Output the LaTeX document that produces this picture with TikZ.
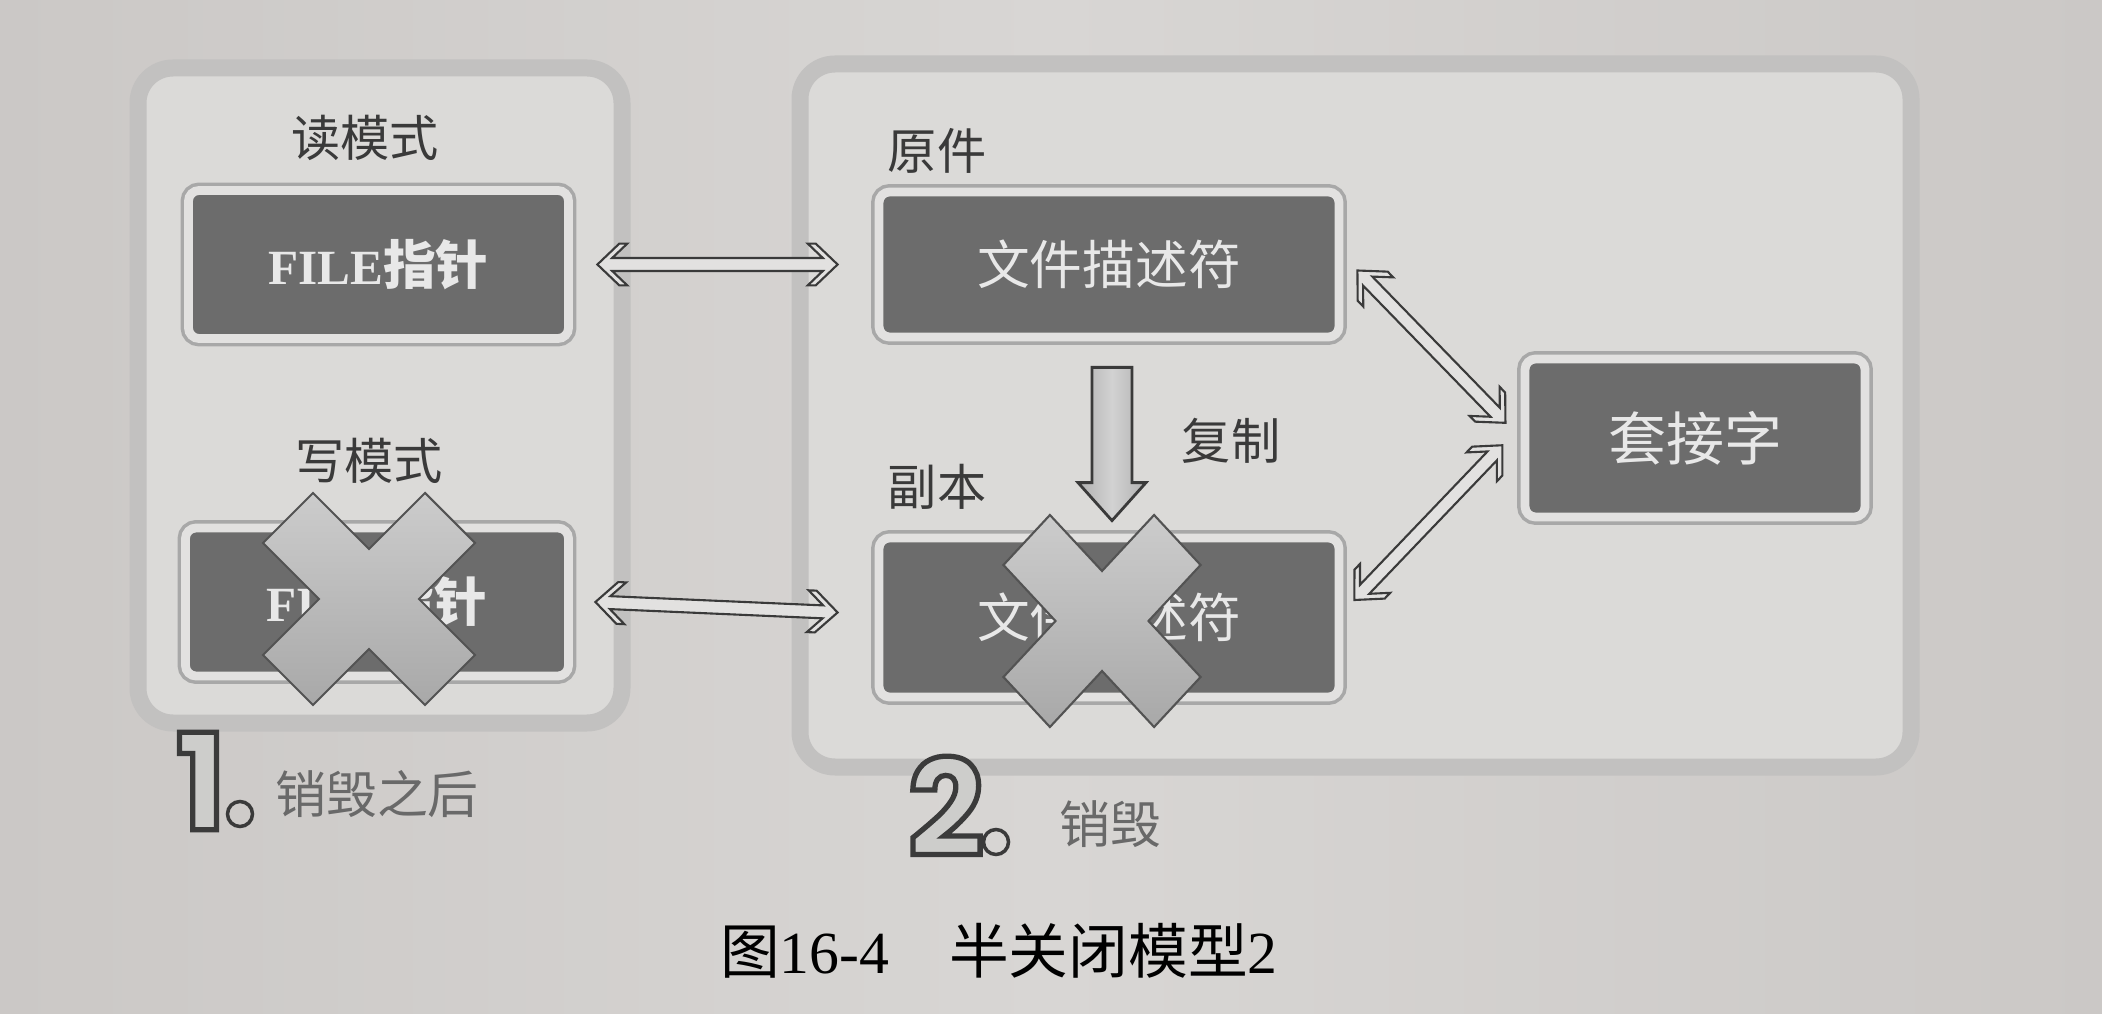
\documentclass[tikz,border=0pt]{standalone}
\usepackage{fontspec}
\usetikzlibrary{arrows.meta,calc}
\newfontfamily\cjk{Noto Sans CJK SC}
\newfontfamily\boxserif{Liberation Serif}
\newfontfamily\numfont{Poppins}
\newcommand{\outlinedigit}[1]{\special{pdf:literal direct 0.23 0.23 0.23 RG 1.5 w 2 Tr}#1\special{pdf:literal direct 0 Tr}}
% hollow double-headed link from #1 to #2
\newcommand{\hollowlink}[2]{%
  \path (#2); \pgfgetlastxy{\bx}{\by}
  \path (#1); \pgfgetlastxy{\ax}{\ay}
  \pgfmathsetmacro\linkang{atan2(\by-\ay,\bx-\ax)}
  \pgfmathsetmacro\linklen{veclen(\bx-\ax,\by-\ay)}
  \draw[hollowarrow, shift={(#1)}, rotate=\linkang]
    (0,0) -- (6.24pt,5.95pt) -- (8.51pt,5.95pt) -- (4.2pt,1.84pt)
    -- ({\linklen pt-4.2pt},1.84pt) -- ({\linklen pt-8.51pt},5.95pt)
    -- ({\linklen pt-6.24pt},5.95pt) -- ({\linklen pt},0pt)
    -- ({\linklen pt-6.24pt},-5.95pt) -- ({\linklen pt-8.51pt},-5.95pt)
    -- ({\linklen pt-4.2pt},-1.84pt) -- (4.2pt,-1.84pt)
    -- (8.51pt,-5.95pt) -- (6.24pt,-5.95pt) -- cycle;}

\definecolor{paper}{RGB}{216,214,212}
\definecolor{bgedge}{RGB}{203,200,198}
\definecolor{panelfill}{RGB}{219,218,216}
\definecolor{panelrim}{RGB}{194,193,192}
\definecolor{boxfill}{RGB}{108,108,108}
\definecolor{boxrim}{RGB}{226,225,224}
\definecolor{boxline}{RGB}{168,168,168}
\definecolor{boxtext}{RGB}{232,232,232}
\definecolor{inkgray}{RGB}{58,58,58}
\definecolor{softink}{RGB}{105,105,105}
\definecolor{numfill}{RGB}{205,205,203}

\tikzset{
  panel/.style={draw=panelrim, fill=panelfill, line width=0.17cm, rounded corners=0.35cm},
  darkbox/.style={fill=boxfill, draw=boxrim, line width=2.5pt, rounded corners=3pt,
    preaction={draw=boxline, line width=4.5pt}, text=boxtext,
    font=\cjk\fontsize{15}{15}\selectfont},
  tag/.style={text=inkgray, font=\cjk\fontsize{14}{14}\selectfont},
  hollowarrow/.style={fill=boxrim, draw=inkgray, line width=0.6pt, line join=miter},
  copyarrow/.style={left color=gray!62, right color=gray!62, middle color=gray!35,
    draw=inkgray, line width=0.8pt},
  crossmark/.style={top color=gray!40, bottom color=gray!68, draw=gray!65!black,
    line width=0.6pt},
  bignum/.style={text=numfill, font=\numfont\bfseries\fontsize{38}{38}\selectfont},
  numdot/.style={circle, draw=inkgray, line width=1pt, minimum size=0.25cm, inner sep=0pt},
  steptext/.style={text=softink, font=\cjk\fontsize{14.5}{14.5}\selectfont},
  figcaption/.style={text=black, font=\boxserif\fontsize{17}{17}\selectfont}
}

\begin{document}
\begin{tikzpicture}
  \useasboundingbox (0,0) rectangle (21.02,10.13);
  \shade[left color=bgedge, right color=bgedge, middle color=paper] (0,0) rectangle (21.02,10.13);

  % panels
  \node[panel, minimum width=4.84cm, minimum height=6.55cm] (modepanel) at (3.80,6.175) {};
  \node[panel, minimum width=11.11cm, minimum height=7.03cm] (fdpanel) at (13.555,5.975) {};

  % boxes
  \node[darkbox, minimum width=3.80cm, minimum height=1.48cm] (readptr) at (3.785,7.485)
    {{\boxserif\bfseries\fontsize{14}{14}\selectfont FILE}{\bfseries 指针}};
  \node[darkbox, minimum width=3.83cm, minimum height=1.48cm] (writeptr) at (3.77,4.11)
    {{\boxserif\bfseries\fontsize{14}{14}\selectfont FILE}{\bfseries 指针}};
  \node[darkbox, minimum width=4.60cm, minimum height=1.45cm] (origfd) at (11.09,7.485) {文件描述符};
  \node[darkbox, minimum width=4.60cm, minimum height=1.59cm] (copyfd) at (11.09,3.955) {文件描述符};
  \node[darkbox, minimum width=3.40cm, minimum height=1.58cm,
    font=\cjk\fontsize{16.5}{16.5}\selectfont] (sock) at (16.95,5.75) {套接字};

  \node[tag] (readtag) at (3.65,8.75) {读模式};
  \node[tag] (writetag) at (3.69,5.52) {写模式};
  \node[tag] (origtag) at (9.37,8.62) {原件};
  \node[tag] (copytag) at (9.37,5.26) {副本};
  \node[tag] (duptag) at (12.31,5.72) {复制};

  % link ends
  \coordinate (readend) at ([xshift=0.245cm]readptr.east);
  \coordinate (origin) at ([xshift=-0.37cm]origfd.west);
  \coordinate (writeend) at ([xshift=0.225cm]writeptr.east);
  \coordinate (copyin) at ([xshift=-0.37cm,yshift=0.05cm]copyfd.west);
  \coordinate (origout) at ([xshift=0.14cm,yshift=-0.06cm]origfd.east);
  \coordinate (sockhi) at ([xshift=-0.15cm,yshift=0.15cm]sock.west);
  \coordinate (copyout) at ([xshift=0.11cm,yshift=0.175cm]copyfd.east);
  \coordinate (socklo) at ([xshift=-0.18cm,yshift=-0.07cm]sock.west);
  \hollowlink{readend}{origin}
  \hollowlink{writeend}{copyin}
  \hollowlink{origout}{sockhi}
  \hollowlink{copyout}{socklo}

  % copy arrow
  \coordinate (cptop) at ([yshift=-0.26cm,xshift=0.03cm]origfd.south);
  \coordinate (cptip) at ([yshift=0.13cm,xshift=0.03cm]copyfd.north);
  \shadedraw[copyarrow] ($(cptop)+(-0.2,0)$) -- ($(cptop)+(0.2,0)$) -- ($(cptip)+(0.2,0.38)$)
    -- ($(cptip)+(0.34,0.38)$) -- (cptip) -- ($(cptip)+(-0.34,0.38)$)
    -- ($(cptip)+(-0.2,0.38)$) -- cycle;

  % crosses
  \coordinate (killw) at (3.69,4.14);
  \coordinate (killc) at (11.02,3.92);
  \foreach \c/\sx in {killw/1,killc/0.93} {
    \shadedraw[crossmark, shift={(\c)}, xscale=\sx] (0,0.5) -- (0.56,1.06) -- (1.06,0.56)
      -- (0.5,0) -- (1.06,-0.56) -- (0.56,-1.06) -- (0,-0.5) -- (-0.56,-1.06)
      -- (-1.06,-0.56) -- (-0.5,0) -- (-1.06,0.56) -- (-0.56,1.06) -- cycle;
  }

  % steps
  \node[bignum] (stepone) at (2.01,2.32) {\outlinedigit{1}};
  \node[numdot] (stepdotone) at (2.40,1.99) {};
  \node[steptext] (stepnoteone) at (3.77,2.19) {销毁之后};
  \node[bignum] (steptwo) at (9.46,2.07) {\outlinedigit{2}};
  \node[numdot] (stepdottwo) at (9.96,1.71) {};
  \node[steptext] (stepnotetwo) at (11.10,1.89) {销毁};

  \node[figcaption] (figcap) at (9.99,0.62) {{\cjk 图}16-4\hspace{1em}{\cjk 半关闭模型}2};
\end{tikzpicture}
\end{document}
